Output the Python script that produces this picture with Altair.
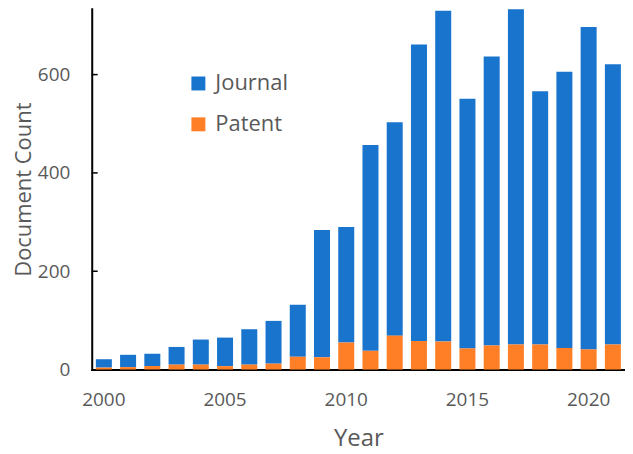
import altair as alt
import pandas as pd

years = list(range(2000, 2022))
journal = [17, 25, 25, 36, 51, 58, 72, 87, 106, 259, 235, 419, 434, 603, 673, 508, 588, 682, 515, 562, 656, 570]
patent = [4, 5, 7, 10, 10, 7, 10, 12, 26, 25, 55, 38, 69, 58, 57, 43, 49, 51, 51, 44, 41, 51]
series = ["Journal", "Patent"]
colors = ["#1874CD", "#FF7F27"]
y_ticks = [200, 400, 600]

rows = []
for y, j, p in zip(years, journal, patent):
    rows.append({"Year": y, "Type": "Journal", "Count": j, "ord": 1})
    rows.append({"Year": y, "Type": "Patent", "Count": p, "ord": 0})
df = pd.DataFrame(rows)
tick_df = pd.DataFrame({"v": y_ticks})

FONT = "Open Sans"
GREY = "#595959"

bars = alt.Chart(df).mark_bar().encode(
    x=alt.X("Year:O", title="Year",
            scale=alt.Scale(paddingInner=0.34, paddingOuter=0.17),
            axis=alt.Axis(labelAngle=0, ticks=False, domainColor="#000000", domainWidth=2,
                          labelExpr="datum.value % 5 == 0 ? datum.label : ''",
                          labelFontSize=19, labelColor=GREY, labelFont=FONT, labelPadding=21,
                          titleFontSize=24, titleColor=GREY, titleFont=FONT, titleFontWeight="normal",
                          titlePadding=17)),
    y=alt.Y("Count:Q", title="Document Count", stack="zero",
            scale=alt.Scale(domain=[0, 734], nice=False),
            axis=alt.Axis(values=[0, 200, 400, 600], ticks=False, grid=False,
                          domainColor="#000000", domainWidth=2,
                          labelFontSize=19, labelColor=GREY, labelFont=FONT, labelPadding=22,
                          titleFontSize=22, titleColor=GREY, titleFont=FONT, titleFontWeight="normal",
                          titlePadding=2)),
    color=alt.Color("Type:N", scale=alt.Scale(domain=series, range=colors),
                    legend=alt.Legend(title=None, orient="none", legendX=96, legendY=64,
                                      symbolType="square", symbolSize=196, symbolStrokeWidth=0,
                                      symbolOpacity=1, labelFontSize=22, labelColor=GREY,
                                      labelFont=FONT, labelOffset=6, rowPadding=19, padding=0)),
    order=alt.Order("ord:Q", sort="ascending"),
)

ticks = alt.Chart(tick_df).mark_rule(color="#000000", strokeWidth=1.5).encode(
    x=alt.value(0), x2=alt.value(6), y=alt.Y("v:Q")
)

chart = alt.layer(bars, ticks).properties(
    width=535, height=362, autosize=alt.AutoSizeParams(type="none"),
    padding={"left": 84, "top": 0, "right": 0, "bottom": 84}
).configure_view(stroke=None).configure_axis(domainCap="square")

chart.save("out.html", embed_options={"renderer": "svg", "actions": False})
